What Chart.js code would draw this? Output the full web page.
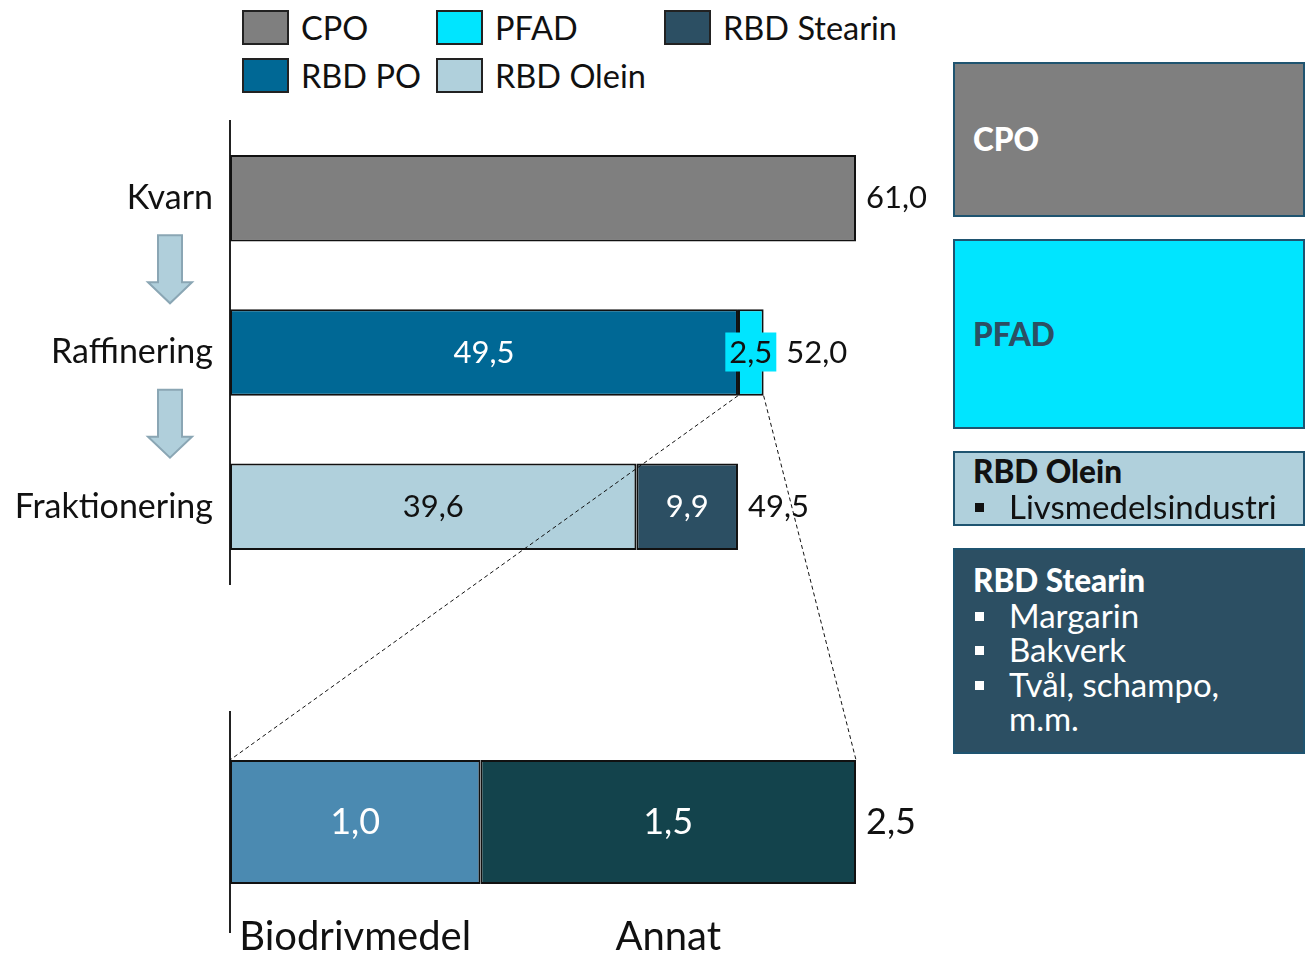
<!DOCTYPE html>
<html>
<head>
<meta charset="utf-8">
<title>Palmolja – flöde</title>
<script src="https://cdn.jsdelivr.net/npm/chart.js@4.4.1/dist/chart.umd.min.js"></script>
<style>
    body { margin: 0; background: #fff; font-family: Lato, "Noto Sans", sans-serif; }
    #page { position: relative; width: 1312px; height: 954px; overflow: hidden; }
    #legend {
        position: absolute; left: 242px; top: 10px;
        display: grid; grid-template-rows: 34px 34px; grid-auto-flow: column;
        grid-template-columns: 194px 228px auto; row-gap: 14px;
    }
    .lg-item { display: flex; align-items: center; font-size: 32.5px; color: #111; white-space: nowrap; }
    .lg-box { width: 43px; height: 31px; border: 2px solid #222; margin-right: 12px; flex: none; }
    #topChart { position: absolute; left: 0; top: 110px; }
    #botChart { position: absolute; left: 0; top: 700px; }
    #overlay { position: absolute; left: 0; top: 0; pointer-events: none; }
    .info {
        position: absolute; left: 953px; box-sizing: content-box;
        border: 2px solid #1f5470; padding: 0 0 0 18px; width: 330px;
        font-size: 33px; line-height: 34.5px;
    }
    .info b { font-weight: 900; font-size: 31.5px; }
    .bullet { position: relative; padding-left: 36px; }
    .bullet::before {
        content: ''; position: absolute; left: 2px; top: 14px;
        width: 9px; height: 9px; background: currentColor;
    }
</style>
</head>
<body>
<div id="page">
    <div id="legend"></div>
    <canvas id="topChart" width="950" height="480"></canvas>
    <canvas id="botChart" width="950" height="254"></canvas>
    <canvas id="overlay" width="1312" height="954"></canvas>

    <div class="info" style="top:62px;height:151px;background:#7f7f7f;color:#fff;display:flex;align-items:center;">
        <b>CPO</b>
    </div>
    <div class="info" style="top:239px;height:186px;background:#00e5ff;color:#2c4f63;display:flex;align-items:center;">
        <b>PFAD</b>
    </div>
    <div class="info" style="top:451px;background:#b0d0dc;color:#111;height:71px;">
        <b>RBD Olein</b>
        <div class="bullet">Livsmedelsindustri</div>
    </div>
    <div class="info" style="top:548px;height:190px;background:#2c4f63;color:#fff;padding-top:12px;">
        <b>RBD Stearin</b>
        <div class="bullet">Margarin</div>
        <div class="bullet">Bakverk</div>
        <div class="bullet">Tvål, schampo,<br>m.m.</div>
    </div>
</div>

<script>
// Processing steps and volumes per product
const stages = ['Kvarn', 'Raffinering', 'Fraktionering'];
const cpo = [61.0, null, null];
const rbdPo = [null, 49.5, null];
const pfad = [null, 2.5, null];
const rbdOlein = [null, null, 39.6];
const rbdStearin = [null, null, 9.9];
const stageMax = 61;

// What the PFAD is used for
const pfadUses = [''];
const biodrivmedel = [1.0];
const annat = [1.5];
const pfadMax = 2.5;

const FONT = 'Lato, "Noto Sans", sans-serif';
const fmt = v => v.toFixed(1).replace('.', ',');

// Number labels: inner values on split bars, totals to the right
const valueLabels = {
    id: 'valueLabels',
    afterDatasetsDraw(chart, args, opts) {
        const ctx = chart.ctx;
        ctx.save();
        ctx.font = `${opts.size}px ${FONT}`;
        ctx.textBaseline = 'middle';
        chart.data.labels.forEach((lbl, i) => {
            let total = 0, end = -Infinity, y = 0;
            const parts = [];
            chart.data.datasets.forEach((ds, d) => {
                const v = ds.data[i];
                if (v == null) return;
                const bar = chart.getDatasetMeta(d).data[i];
                total += v;
                end = Math.max(end, bar.x);
                y = bar.y;
                parts.push({ ds, v, bar });
            });
            if (!parts.length) return;
            if (parts.length > 1) {
                parts.forEach(({ ds, v, bar }) => {
                    const cx = (bar.x + bar.base) / 2;
                    const txt = fmt(v);
                    ctx.textAlign = 'center';
                    if (ds.labelBox) {
                        const w = ctx.measureText(txt).width + 8;
                        ctx.fillStyle = ds.backgroundColor;
                        ctx.fillRect(cx - w / 2, y - 20, w, 39);
                        end = Math.max(end, cx + w / 2);
                    }
                    ctx.fillStyle = ds.labelColor;
                    ctx.fillText(txt, cx, y);
                });
            }
            ctx.textAlign = 'left';
            ctx.fillStyle = '#111';
            ctx.fillText(fmt(total), end + 10, y);
        });
        ctx.restore();
    }
};

// Down arrows between the steps
const stepArrows = {
    id: 'stepArrows',
    afterDraw(chart) {
        const ctx = chart.ctx;
        const yScale = chart.scales.y;
        const cx = yScale.left + 170;
        ctx.save();
        ctx.fillStyle = '#b0cfdb';
        ctx.strokeStyle = '#8aa6b4';
        ctx.lineWidth = 2;
        for (let i = 0; i < chart.data.labels.length - 1; i++) {
            const mid = (yScale.getPixelForValue(i) + yScale.getPixelForValue(i + 1)) / 2 - 6;
            const top = mid - 34, neck = mid + 13, tip = mid + 34;
            ctx.beginPath();
            ctx.moveTo(cx - 12, top);
            ctx.lineTo(cx + 12, top);
            ctx.lineTo(cx + 12, neck);
            ctx.lineTo(cx + 22, neck);
            ctx.lineTo(cx, tip);
            ctx.lineTo(cx - 22, neck);
            ctx.lineTo(cx - 12, neck);
            ctx.closePath();
            ctx.fill();
            ctx.stroke();
        }
        ctx.restore();
    }
};

// Names of the PFAD uses under each segment
const segmentNames = {
    id: 'segmentNames',
    afterDraw(chart) {
        const ctx = chart.ctx;
        ctx.save();
        ctx.font = `40px ${FONT}`;
        ctx.fillStyle = '#111';
        ctx.textAlign = 'center';
        ctx.textBaseline = 'middle';
        chart.data.datasets.forEach((ds, d) => {
            const bar = chart.getDatasetMeta(d).data[0];
            ctx.fillText(ds.label, (bar.x + bar.base) / 2, chart.chartArea.bottom + 5);
        });
        ctx.restore();
    }
};

function barSet(label, data, color, labelColor, extra) {
    return Object.assign({
        label, data,
        backgroundColor: color,
        borderColor: '#111',
        borderWidth: 2,
        borderSkipped: false,
        labelColor
    }, extra || {});
}

const yAxis = (showTicks) => ({
    stacked: true,
    afterFit: s => {
        s.width = 230;
        s.paddingTop = 0;
        s.paddingBottom = 0;
    },
    grid: { display: false, drawTicks: false },
    border: { display: true, color: '#222', width: 2 },
    ticks: { display: showTicks, color: '#111', padding: 17, font: { family: FONT, size: 34 } }
});

const topDatasets = [
    barSet('CPO', cpo, '#7f7f7f', '#fff'),
    barSet('RBD PO', rbdPo, '#006895', '#fff'),
    barSet('PFAD', pfad, '#00e5ff', '#111', { labelBox: true }),
    barSet('RBD Olein', rbdOlein, '#b0d0dc', '#111'),
    barSet('RBD Stearin', rbdStearin, '#2c4f63', '#fff')
];

const topChart = new Chart(document.getElementById('topChart'), {
    type: 'bar',
    data: { labels: stages, datasets: topDatasets },
    options: {
        indexAxis: 'y',
        responsive: false,
        animation: false,
        categoryPercentage: 1,
        barPercentage: 0.56,
        layout: { padding: { top: 11, bottom: 6, right: 94, left: 0 } },
        plugins: {
            legend: { display: false },
            tooltip: { enabled: false },
            valueLabels: { size: 31 }
        },
        scales: {
            x: { stacked: true, min: 0, max: stageMax, display: false },
            y: yAxis(true)
        }
    },
    plugins: [valueLabels, stepArrows]
});

const botChart = new Chart(document.getElementById('botChart'), {
    type: 'bar',
    data: {
        labels: pfadUses,
        datasets: [
            barSet('Biodrivmedel', biodrivmedel, '#4b8ab1', '#fff'),
            barSet('Annat', annat, '#13434c', '#fff')
        ]
    },
    options: {
        indexAxis: 'y',
        responsive: false,
        animation: false,
        categoryPercentage: 1,
        barPercentage: 0.564,
        layout: { padding: { top: 12, bottom: 22, right: 94, left: 0 } },
        plugins: {
            legend: { display: false },
            tooltip: { enabled: false },
            valueLabels: { size: 36 }
        },
        scales: {
            x: { stacked: true, min: 0, max: pfadMax, display: false },
            y: yAxis(false)
        }
    },
    plugins: [valueLabels, segmentNames]
});

// Legend built from the top chart's datasets
const legend = document.getElementById('legend');
topDatasets.forEach(ds => {
    legend.innerHTML += `<div class="lg-item"><span class="lg-box" style="background:${ds.backgroundColor}"></span>${ds.label}</div>`;
});

// Dashed zoom lines from the PFAD segment to the breakdown bar
function drawZoomLines() {
    const topCanvas = document.getElementById('topChart');
    const botCanvas = document.getElementById('botChart');
    const pfadIdx = topDatasets.findIndex(ds => ds.label === 'PFAD');
    const row = pfad.findIndex(v => v != null);
    const src = topChart.getDatasetMeta(pfadIdx).data[row];
    const srcBottom = src.y + src.height / 2 + topCanvas.offsetTop;
    const first = botChart.getDatasetMeta(0).data[0];
    const last = botChart.getDatasetMeta(1).data[0];
    const dstTop = first.y - first.height / 2 + botCanvas.offsetTop;

    const ctx = document.getElementById('overlay').getContext('2d');
    ctx.strokeStyle = '#111';
    ctx.lineWidth = 1;
    ctx.setLineDash([4, 3]);
    ctx.beginPath();
    ctx.moveTo(src.base, srcBottom);
    ctx.lineTo(first.base, dstTop);
    ctx.moveTo(src.x, srcBottom);
    ctx.lineTo(last.x, dstTop);
    ctx.stroke();
}
drawZoomLines();
</script>
</body>
</html>
